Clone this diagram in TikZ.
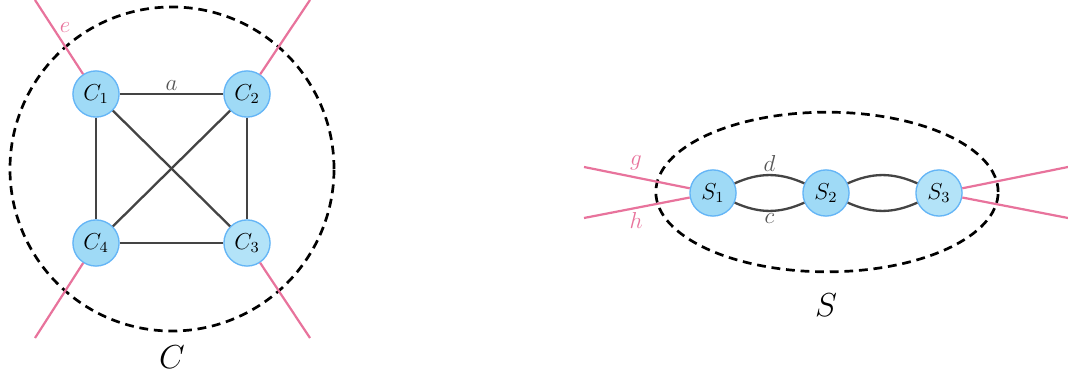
\documentclass[tikz,border=0pt]{standalone}
\usetikzlibrary{shapes.geometric}
\definecolor{nodefill}{HTML}{9FDAF6}
\definecolor{nodefillb}{HTML}{B3E3F8}
\definecolor{nodeborder}{HTML}{64B5F6}
\definecolor{edgegray}{HTML}{444444}
\definecolor{labgray}{HTML}{555555}
\definecolor{pinkline}{HTML}{E8739C}
\begin{document}
\begin{tikzpicture}[x=0.52pt,y=-0.52pt,
  vtx/.style={circle,draw=nodeborder,fill=nodefill,line width=0.7pt,minimum size=24pt,inner sep=0pt,font=\large},
  vtxb/.style={vtx,fill=nodefillb},
  edge/.style={draw=edgegray,line width=1.2pt},
  ext/.style={draw=pinkline,line width=1.15pt},
  group/.style={draw=black,line width=1.4pt,dash pattern=on 4.6pt off 3pt},
  elab/.style={text=labgray,font=\large},
  plab/.style={text=pinkline,font=\large},
  glab/.style={font=\fontsize{19}{22}\selectfont}]
\useasboundingbox (0,0) rectangle (1068,376);
% left cluster
\node[group,circle,minimum size=168.5pt,inner sep=0pt] (gc) at (172,169) {};
\coordinate (p1) at (35,0);
\coordinate (p2) at (310,0);
\coordinate (p3) at (35,338);
\coordinate (p4) at (310,338);
\node[vtx] (c1) at (96,94) {$C_1$};
\node[vtx] (c2) at (247,94) {$C_2$};
\node[vtxb] (c3) at (247,243) {$C_3$};
\node[vtx] (c4) at (96,243) {$C_4$};
\draw[ext] (p1) -- (c1);
\draw[ext] (p2) -- (c2);
\draw[ext] (p3) -- (c4);
\draw[ext] (p4) -- (c3);
\draw[edge] (c1) -- node[elab,above,inner sep=1pt] (la) {$a$} (c2);
\draw[edge] (c1) -- (c4);
\draw[edge] (c2) -- (c3);
\draw[edge] (c4) -- (c3);
\draw[edge] (c1) -- (c3);
\draw[edge] (c2) -- (c4);
\node[plab] (le) at (65,28) {$e$};
\node[glab] (lC) at (172,357) {$C$};
% right cluster
\node[group,ellipse,minimum width=178pt,minimum height=83pt,inner sep=0pt] (gs) at (827,192) {};
\coordinate (q1) at (584,167);
\coordinate (q2) at (584,218);
\coordinate (q3) at (1068,167);
\coordinate (q4) at (1068,218);
\node[vtx] (s1) at (713,193) {$S_1$};
\node[vtx] (s2) at (826,193) {$S_2$};
\node[vtxb] (s3) at (939,193) {$S_3$};
\draw[ext] (q1) -- (s1);
\draw[ext] (q2) -- (s1);
\draw[ext] (s3) -- (q3);
\draw[ext] (s3) -- (q4);
\draw[edge] (s1) to[bend left=24] node[elab,above,inner sep=1pt] (ld) {$d$} (s2);
\draw[edge] (s1) to[bend right=24] node[elab,below,inner sep=1pt] (lc) {$c$} (s2);
\draw[edge] (s2) to[bend left=24] (s3);
\draw[edge] (s2) to[bend right=24] (s3);
\node[plab] (lg) at (636,163) {$g$};
\node[plab] (lh) at (636,220) {$h$};
\node[glab] (lS) at (826,305) {$S$};
\end{tikzpicture}
\end{document}
